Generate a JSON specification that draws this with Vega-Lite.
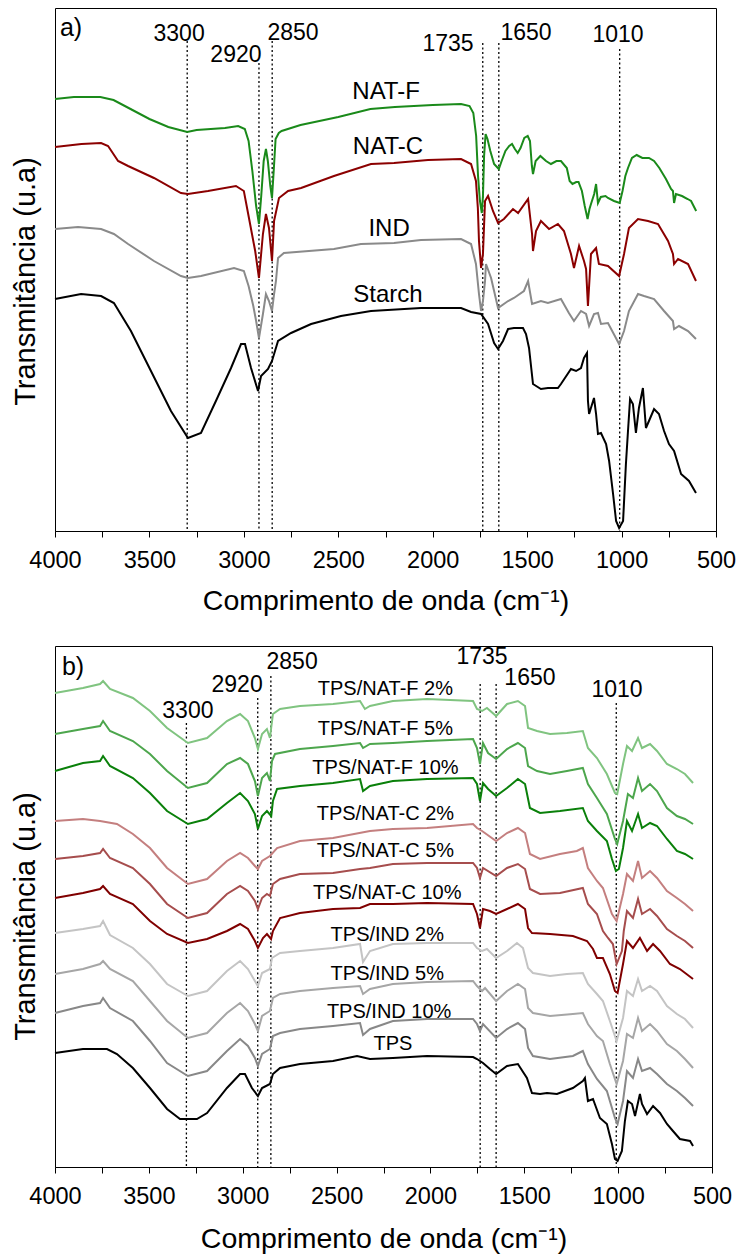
{
"$schema": "https://vega.github.io/schema/vega-lite/v6.json",
"padding": {"left": 10, "top": 7, "right": 0, "bottom": 0},
"spacing": 29,
"resolve": {"scale": {"x": "independent", "y": "independent", "color": "independent"}, "axis": {"x": "independent", "y": "independent"}},
"config": {
  "font": "Liberation Sans",
  "view": {"stroke": "#000000", "strokeWidth": 1},
  "axis": {"grid": false, "tickColor": "#000000", "domainColor": "#000000", "labelColor": "#000000", "titleColor": "#000000", "titleFontWeight": "normal"}
},
"vconcat": [
{
  "width": 661, "height": 523,
  "encoding": {
    "x": {"field": "w", "type": "quantitative", "scale": {"domain": [500, 4000], "reverse": true, "nice": false, "zero": false},
      "axis": {"title": "Comprimento de onda (cm⁻¹)", "values": [4000,3750,3500,3250,3000,2750,2500,2250,2000,1750,1500,1250,1000,750,500], "format": "d", "labelExpr": "datum.value % 500 == 0 ? datum.label : ''", "labelOverlap": false, "labelFlush": false, "tickSize": 6, "labelFontSize": 23.5, "labelPadding": 11, "titleFontSize": 28.5, "titlePadding": 15}},
    "y": {"field": "v", "type": "quantitative", "scale": {"domain": [0, 523], "nice": false, "zero": false},
      "axis": {"title": "Transmitância (u.a)", "labels": false, "ticks": false, "domain": false, "titleFontSize": 29, "titlePadding": 15, "titleY": 273}}
  },
  "layer": [
    {
      "data": {"values": [
{"w":3300,"v":490},{"w":2920,"v":468},{"w":2850,"v":490},{"w":1735,"v":488},{"w":1650,"v":488},{"w":1010,"v":482}
      ]},
      "mark": {"type": "rule", "color": "#000000", "strokeWidth": 1.3, "strokeDash": [2, 2.5]},
      "encoding": {"y2": {"datum": 0}}
    },
    {
      "data": {"values": [
{"s":"NAT-F","w":4000,"v":432},{"s":"NAT-F","w":3900,"v":434},{"s":"NAT-F","w":3760,"v":434},{"s":"NAT-F","w":3690,"v":431},{"s":"NAT-F","w":3600,"v":422},{"s":"NAT-F","w":3500,"v":412},{"s":"NAT-F","w":3400,"v":404},{"s":"NAT-F","w":3300,"v":399},{"s":"NAT-F","w":3250,"v":401},{"s":"NAT-F","w":3100,"v":403},{"s":"NAT-F","w":3030,"v":405},{"s":"NAT-F","w":2995,"v":402},{"s":"NAT-F","w":2975,"v":390},{"s":"NAT-F","w":2955,"v":360},{"s":"NAT-F","w":2935,"v":325},{"s":"NAT-F","w":2920,"v":307},{"s":"NAT-F","w":2908,"v":335},{"s":"NAT-F","w":2895,"v":370},{"s":"NAT-F","w":2883,"v":382},{"s":"NAT-F","w":2873,"v":370},{"s":"NAT-F","w":2860,"v":345},{"s":"NAT-F","w":2851,"v":333},{"s":"NAT-F","w":2842,"v":360},{"s":"NAT-F","w":2832,"v":392},{"s":"NAT-F","w":2815,"v":398},{"s":"NAT-F","w":2800,"v":400},{"s":"NAT-F","w":2700,"v":406},{"s":"NAT-F","w":2600,"v":410},{"s":"NAT-F","w":2500,"v":414},{"s":"NAT-F","w":2330,"v":422},{"s":"NAT-F","w":2200,"v":424},{"s":"NAT-F","w":2000,"v":426},{"s":"NAT-F","w":1850,"v":427},{"s":"NAT-F","w":1805,"v":425},{"s":"NAT-F","w":1785,"v":418},{"s":"NAT-F","w":1770,"v":395},{"s":"NAT-F","w":1760,"v":355},{"s":"NAT-F","w":1750,"v":330},{"s":"NAT-F","w":1740,"v":318},{"s":"NAT-F","w":1734,"v":335},{"s":"NAT-F","w":1728,"v":375},{"s":"NAT-F","w":1720,"v":397},{"s":"NAT-F","w":1710,"v":392},{"s":"NAT-F","w":1695,"v":380},{"s":"NAT-F","w":1675,"v":367},{"s":"NAT-F","w":1650,"v":362},{"s":"NAT-F","w":1635,"v":370},{"s":"NAT-F","w":1615,"v":380},{"s":"NAT-F","w":1595,"v":385},{"s":"NAT-F","w":1580,"v":387},{"s":"NAT-F","w":1565,"v":382},{"s":"NAT-F","w":1550,"v":378},{"s":"NAT-F","w":1535,"v":383},{"s":"NAT-F","w":1515,"v":393},{"s":"NAT-F","w":1497,"v":395},{"s":"NAT-F","w":1485,"v":390},{"s":"NAT-F","w":1475,"v":365},{"s":"NAT-F","w":1469,"v":357},{"s":"NAT-F","w":1455,"v":370},{"s":"NAT-F","w":1430,"v":375},{"s":"NAT-F","w":1400,"v":370},{"s":"NAT-F","w":1374,"v":367},{"s":"NAT-F","w":1345,"v":370},{"s":"NAT-F","w":1321,"v":370},{"s":"NAT-F","w":1290,"v":363},{"s":"NAT-F","w":1275,"v":350},{"s":"NAT-F","w":1260,"v":347},{"s":"NAT-F","w":1240,"v":349},{"s":"NAT-F","w":1228,"v":349},{"s":"NAT-F","w":1210,"v":340},{"s":"NAT-F","w":1195,"v":325},{"s":"NAT-F","w":1180,"v":312},{"s":"NAT-F","w":1170,"v":322},{"s":"NAT-F","w":1162,"v":327},{"s":"NAT-F","w":1145,"v":337},{"s":"NAT-F","w":1135,"v":347},{"s":"NAT-F","w":1125,"v":328},{"s":"NAT-F","w":1110,"v":334},{"s":"NAT-F","w":1085,"v":335},{"s":"NAT-F","w":1072,"v":333},{"s":"NAT-F","w":1040,"v":330},{"s":"NAT-F","w":1010,"v":328},{"s":"NAT-F","w":995,"v":340},{"s":"NAT-F","w":980,"v":355},{"s":"NAT-F","w":966,"v":363},{"s":"NAT-F","w":945,"v":373},{"s":"NAT-F","w":920,"v":376},{"s":"NAT-F","w":890,"v":373},{"s":"NAT-F","w":855,"v":373},{"s":"NAT-F","w":828,"v":370},{"s":"NAT-F","w":800,"v":363},{"s":"NAT-F","w":765,"v":352},{"s":"NAT-F","w":738,"v":342},{"s":"NAT-F","w":728,"v":340},{"s":"NAT-F","w":722,"v":328},{"s":"NAT-F","w":712,"v":337},{"s":"NAT-F","w":680,"v":335},{"s":"NAT-F","w":650,"v":332},{"s":"NAT-F","w":632,"v":330},{"s":"NAT-F","w":605,"v":320},
{"s":"NAT-C","w":4000,"v":384},{"s":"NAT-C","w":3860,"v":387},{"s":"NAT-C","w":3756,"v":388},{"s":"NAT-C","w":3719,"v":385},{"s":"NAT-C","w":3666,"v":370},{"s":"NAT-C","w":3613,"v":365},{"s":"NAT-C","w":3476,"v":353},{"s":"NAT-C","w":3333,"v":338},{"s":"NAT-C","w":3296,"v":337},{"s":"NAT-C","w":3190,"v":340},{"s":"NAT-C","w":3042,"v":345},{"s":"NAT-C","w":3000,"v":340},{"s":"NAT-C","w":2973,"v":313},{"s":"NAT-C","w":2940,"v":280},{"s":"NAT-C","w":2920,"v":253},{"s":"NAT-C","w":2899,"v":297},{"s":"NAT-C","w":2883,"v":317},{"s":"NAT-C","w":2867,"v":303},{"s":"NAT-C","w":2851,"v":270},{"s":"NAT-C","w":2840,"v":310},{"s":"NAT-C","w":2814,"v":333},{"s":"NAT-C","w":2766,"v":340},{"s":"NAT-C","w":2697,"v":343},{"s":"NAT-C","w":2523,"v":355},{"s":"NAT-C","w":2327,"v":367},{"s":"NAT-C","w":2205,"v":368},{"s":"NAT-C","w":2025,"v":371},{"s":"NAT-C","w":1850,"v":372},{"s":"NAT-C","w":1797,"v":367},{"s":"NAT-C","w":1771,"v":350},{"s":"NAT-C","w":1761,"v":323},{"s":"NAT-C","w":1755,"v":290},{"s":"NAT-C","w":1744,"v":263},{"s":"NAT-C","w":1734,"v":277},{"s":"NAT-C","w":1723,"v":330},{"s":"NAT-C","w":1707,"v":335},{"s":"NAT-C","w":1681,"v":320},{"s":"NAT-C","w":1654,"v":308},{"s":"NAT-C","w":1623,"v":312},{"s":"NAT-C","w":1575,"v":322},{"s":"NAT-C","w":1548,"v":318},{"s":"NAT-C","w":1495,"v":332},{"s":"NAT-C","w":1474,"v":297},{"s":"NAT-C","w":1469,"v":280},{"s":"NAT-C","w":1453,"v":300},{"s":"NAT-C","w":1427,"v":310},{"s":"NAT-C","w":1384,"v":302},{"s":"NAT-C","w":1337,"v":307},{"s":"NAT-C","w":1305,"v":300},{"s":"NAT-C","w":1268,"v":277},{"s":"NAT-C","w":1252,"v":263},{"s":"NAT-C","w":1225,"v":285},{"s":"NAT-C","w":1199,"v":270},{"s":"NAT-C","w":1188,"v":262},{"s":"NAT-C","w":1178,"v":225},{"s":"NAT-C","w":1162,"v":277},{"s":"NAT-C","w":1135,"v":283},{"s":"NAT-C","w":1120,"v":267},{"s":"NAT-C","w":1072,"v":265},{"s":"NAT-C","w":1013,"v":255},{"s":"NAT-C","w":987,"v":277},{"s":"NAT-C","w":961,"v":303},{"s":"NAT-C","w":913,"v":312},{"s":"NAT-C","w":860,"v":310},{"s":"NAT-C","w":807,"v":307},{"s":"NAT-C","w":754,"v":290},{"s":"NAT-C","w":728,"v":277},{"s":"NAT-C","w":722,"v":267},{"s":"NAT-C","w":701,"v":272},{"s":"NAT-C","w":648,"v":267},{"s":"NAT-C","w":606,"v":250},
{"s":"IND","w":4000,"v":302},{"s":"IND","w":3878,"v":304},{"s":"IND","w":3756,"v":302},{"s":"IND","w":3688,"v":297},{"s":"IND","w":3613,"v":287},{"s":"IND","w":3476,"v":270},{"s":"IND","w":3333,"v":255},{"s":"IND","w":3296,"v":253},{"s":"IND","w":3227,"v":255},{"s":"IND","w":3052,"v":263},{"s":"IND","w":3000,"v":260},{"s":"IND","w":2975,"v":245},{"s":"IND","w":2950,"v":225},{"s":"IND","w":2935,"v":210},{"s":"IND","w":2920,"v":193},{"s":"IND","w":2899,"v":217},{"s":"IND","w":2883,"v":237},{"s":"IND","w":2867,"v":230},{"s":"IND","w":2851,"v":220},{"s":"IND","w":2840,"v":237},{"s":"IND","w":2830,"v":250},{"s":"IND","w":2819,"v":273},{"s":"IND","w":2788,"v":278},{"s":"IND","w":2523,"v":282},{"s":"IND","w":2380,"v":287},{"s":"IND","w":2205,"v":288},{"s":"IND","w":2062,"v":291},{"s":"IND","w":1850,"v":292},{"s":"IND","w":1797,"v":287},{"s":"IND","w":1771,"v":267},{"s":"IND","w":1755,"v":237},{"s":"IND","w":1744,"v":220},{"s":"IND","w":1734,"v":230},{"s":"IND","w":1723,"v":250},{"s":"IND","w":1718,"v":267},{"s":"IND","w":1691,"v":253},{"s":"IND","w":1654,"v":223},{"s":"IND","w":1601,"v":230},{"s":"IND","w":1570,"v":233},{"s":"IND","w":1517,"v":240},{"s":"IND","w":1495,"v":250},{"s":"IND","w":1474,"v":227},{"s":"IND","w":1427,"v":230},{"s":"IND","w":1390,"v":228},{"s":"IND","w":1321,"v":232},{"s":"IND","w":1279,"v":218},{"s":"IND","w":1252,"v":210},{"s":"IND","w":1215,"v":220},{"s":"IND","w":1188,"v":217},{"s":"IND","w":1172,"v":205},{"s":"IND","w":1146,"v":217},{"s":"IND","w":1125,"v":218},{"s":"IND","w":1109,"v":207},{"s":"IND","w":1072,"v":208},{"s":"IND","w":1013,"v":187},{"s":"IND","w":987,"v":200},{"s":"IND","w":961,"v":220},{"s":"IND","w":913,"v":237},{"s":"IND","w":881,"v":235},{"s":"IND","w":828,"v":232},{"s":"IND","w":775,"v":220},{"s":"IND","w":728,"v":210},{"s":"IND","w":722,"v":202},{"s":"IND","w":696,"v":205},{"s":"IND","w":648,"v":200},{"s":"IND","w":606,"v":192},
{"s":"Starch","w":4000,"v":232},{"s":"Starch","w":3862,"v":237},{"s":"Starch","w":3756,"v":235},{"s":"Starch","w":3688,"v":228},{"s":"Starch","w":3598,"v":200},{"s":"Starch","w":3492,"v":160},{"s":"Starch","w":3386,"v":120},{"s":"Starch","w":3296,"v":93},{"s":"Starch","w":3227,"v":98},{"s":"Starch","w":3148,"v":130},{"s":"Starch","w":3068,"v":163},{"s":"Starch","w":3015,"v":187},{"s":"Starch","w":2994,"v":187},{"s":"Starch","w":2962,"v":163},{"s":"Starch","w":2925,"v":140},{"s":"Starch","w":2909,"v":155},{"s":"Starch","w":2872,"v":162},{"s":"Starch","w":2851,"v":170},{"s":"Starch","w":2819,"v":190},{"s":"Starch","w":2750,"v":198},{"s":"Starch","w":2644,"v":207},{"s":"Starch","w":2486,"v":215},{"s":"Starch","w":2327,"v":220},{"s":"Starch","w":2062,"v":223},{"s":"Starch","w":1850,"v":223},{"s":"Starch","w":1797,"v":219},{"s":"Starch","w":1744,"v":217},{"s":"Starch","w":1707,"v":207},{"s":"Starch","w":1675,"v":188},{"s":"Starch","w":1654,"v":182},{"s":"Starch","w":1628,"v":190},{"s":"Starch","w":1601,"v":202},{"s":"Starch","w":1570,"v":203},{"s":"Starch","w":1522,"v":203},{"s":"Starch","w":1506,"v":197},{"s":"Starch","w":1490,"v":183},{"s":"Starch","w":1469,"v":147},{"s":"Starch","w":1427,"v":142},{"s":"Starch","w":1390,"v":143},{"s":"Starch","w":1337,"v":143},{"s":"Starch","w":1321,"v":147},{"s":"Starch","w":1268,"v":162},{"s":"Starch","w":1241,"v":160},{"s":"Starch","w":1215,"v":163},{"s":"Starch","w":1199,"v":173},{"s":"Starch","w":1183,"v":178},{"s":"Starch","w":1178,"v":130},{"s":"Starch","w":1172,"v":117},{"s":"Starch","w":1146,"v":133},{"s":"Starch","w":1135,"v":117},{"s":"Starch","w":1125,"v":97},{"s":"Starch","w":1109,"v":98},{"s":"Starch","w":1082,"v":87},{"s":"Starch","w":1066,"v":70},{"s":"Starch","w":1045,"v":37},{"s":"Starch","w":1029,"v":10},{"s":"Starch","w":1013,"v":3},{"s":"Starch","w":992,"v":10},{"s":"Starch","w":977,"v":67},{"s":"Starch","w":966,"v":100},{"s":"Starch","w":955,"v":132},{"s":"Starch","w":940,"v":127},{"s":"Starch","w":924,"v":98},{"s":"Starch","w":908,"v":123},{"s":"Starch","w":887,"v":143},{"s":"Starch","w":871,"v":103},{"s":"Starch","w":855,"v":110},{"s":"Starch","w":828,"v":122},{"s":"Starch","w":802,"v":117},{"s":"Starch","w":775,"v":100},{"s":"Starch","w":749,"v":87},{"s":"Starch","w":722,"v":80},{"s":"Starch","w":685,"v":57},{"s":"Starch","w":643,"v":50},{"s":"Starch","w":606,"v":38}
      ]},
      "mark": {"type": "line", "strokeWidth": 2},
      "encoding": {
        "color": {"field": "s", "type": "nominal", "legend": null, "scale": {"domain": ["NAT-F","NAT-C","IND","Starch"], "range": ["#1a8a1a","#8b0000","#8a8a8a","#000000"]}}
      }
    },
    {
      "data": {"values": [
{"w":3343,"v":497,"t":"3300"},{"w":3042,"v":476,"t":"2920"},{"w":2740,"v":498,"t":"2850"},{"w":1919,"v":487,"t":"1735"},{"w":1506,"v":498,"t":"1650"},{"w":1019,"v":496,"t":"1010"}
      ]},
      "mark": {"type": "text", "fontSize": 23, "align": "center", "baseline": "middle", "color": "#000000"},
      "encoding": {"text": {"field": "t"}}
    },
    {
      "data": {"values": [
{"w":2247,"v":439,"t":"NAT-F"},{"w":2237,"v":384,"t":"NAT-C"},{"w":2231,"v":302,"t":"IND"},{"w":2237,"v":236,"t":"Starch"}
      ]},
      "mark": {"type": "text", "fontSize": 24, "align": "center", "baseline": "middle", "color": "#000000"},
      "encoding": {"text": {"field": "t"}}
    },
    {
      "data": {"values": [{"w":3974,"v":503,"t":"a)"}]},
      "mark": {"type": "text", "fontSize": 25, "align": "left", "baseline": "middle", "color": "#000000"},
      "encoding": {"text": {"field": "t"}}
    }
  ]
},
{
  "width": 657, "height": 521,
  "encoding": {
    "x": {"field": "w", "type": "quantitative", "scale": {"domain": [500, 4000], "reverse": true, "nice": false, "zero": false},
      "axis": {"title": "Comprimento de onda (cm⁻¹)", "values": [4000,3750,3500,3250,3000,2750,2500,2250,2000,1750,1500,1250,1000,750,500], "format": "d", "labelExpr": "datum.value % 500 == 0 ? datum.label : ''", "labelOverlap": false, "labelFlush": false, "tickSize": 6, "labelFontSize": 23.5, "labelPadding": 11, "titleFontSize": 28.5, "titlePadding": 17}},
    "y": {"field": "v", "type": "quantitative", "scale": {"domain": [0, 521], "nice": false, "zero": false},
      "axis": {"title": "Transmitância (u.a)", "labels": false, "ticks": false, "domain": false, "titleFontSize": 29, "titlePadding": 15, "titleY": 270}}
  },
  "layer": [
    {
      "data": {"values": [
{"w":3300,"v":444},{"w":2920,"v":469},{"w":2850,"v":491},{"w":1735,"v":483},{"w":1650,"v":483},{"w":1010,"v":464}
      ]},
      "mark": {"type": "rule", "color": "#000000", "strokeWidth": 1.3, "strokeDash": [2, 2.5]},
      "encoding": {"y2": {"datum": 0}}
    },
    {
      "data": {"values": [
{"s":"TPS/NAT-F 2%","w":4000,"v":474},{"s":"TPS/NAT-F 2%","w":3851,"v":479},{"s":"TPS/NAT-F 2%","w":3760,"v":483},{"s":"TPS/NAT-F 2%","w":3744,"v":486},{"s":"TPS/NAT-F 2%","w":3707,"v":478},{"s":"TPS/NAT-F 2%","w":3585,"v":469},{"s":"TPS/NAT-F 2%","w":3494,"v":456},{"s":"TPS/NAT-F 2%","w":3403,"v":439},{"s":"TPS/NAT-F 2%","w":3292,"v":424},{"s":"TPS/NAT-F 2%","w":3190,"v":429},{"s":"TPS/NAT-F 2%","w":3084,"v":446},{"s":"TPS/NAT-F 2%","w":3014,"v":453},{"s":"TPS/NAT-F 2%","w":2972,"v":446},{"s":"TPS/NAT-F 2%","w":2935,"v":429},{"s":"TPS/NAT-F 2%","w":2919,"v":418},{"s":"TPS/NAT-F 2%","w":2897,"v":433},{"s":"TPS/NAT-F 2%","w":2871,"v":438},{"s":"TPS/NAT-F 2%","w":2855,"v":429},{"s":"TPS/NAT-F 2%","w":2839,"v":453},{"s":"TPS/NAT-F 2%","w":2801,"v":458},{"s":"TPS/NAT-F 2%","w":2695,"v":461},{"s":"TPS/NAT-F 2%","w":2519,"v":463},{"s":"TPS/NAT-F 2%","w":2375,"v":466},{"s":"TPS/NAT-F 2%","w":2349,"v":458},{"s":"TPS/NAT-F 2%","w":2322,"v":461},{"s":"TPS/NAT-F 2%","w":2200,"v":466},{"s":"TPS/NAT-F 2%","w":2018,"v":468},{"s":"TPS/NAT-F 2%","w":1773,"v":466},{"s":"TPS/NAT-F 2%","w":1752,"v":458},{"s":"TPS/NAT-F 2%","w":1725,"v":456},{"s":"TPS/NAT-F 2%","w":1699,"v":459},{"s":"TPS/NAT-F 2%","w":1650,"v":451},{"s":"TPS/NAT-F 2%","w":1592,"v":463},{"s":"TPS/NAT-F 2%","w":1534,"v":466},{"s":"TPS/NAT-F 2%","w":1496,"v":461},{"s":"TPS/NAT-F 2%","w":1480,"v":439},{"s":"TPS/NAT-F 2%","w":1432,"v":436},{"s":"TPS/NAT-F 2%","w":1363,"v":433},{"s":"TPS/NAT-F 2%","w":1273,"v":434},{"s":"TPS/NAT-F 2%","w":1188,"v":436},{"s":"TPS/NAT-F 2%","w":1161,"v":419},{"s":"TPS/NAT-F 2%","w":1113,"v":409},{"s":"TPS/NAT-F 2%","w":1060,"v":393},{"s":"TPS/NAT-F 2%","w":1017,"v":374},{"s":"TPS/NAT-F 2%","w":1005,"v":373},{"s":"TPS/NAT-F 2%","w":974,"v":403},{"s":"TPS/NAT-F 2%","w":953,"v":421},{"s":"TPS/NAT-F 2%","w":926,"v":416},{"s":"TPS/NAT-F 2%","w":894,"v":429},{"s":"TPS/NAT-F 2%","w":873,"v":419},{"s":"TPS/NAT-F 2%","w":830,"v":423},{"s":"TPS/NAT-F 2%","w":793,"v":416},{"s":"TPS/NAT-F 2%","w":740,"v":403},{"s":"TPS/NAT-F 2%","w":687,"v":398},{"s":"TPS/NAT-F 2%","w":644,"v":393},{"s":"TPS/NAT-F 2%","w":601,"v":384},
{"s":"TPS/NAT-F 5%","w":4000,"v":433},{"s":"TPS/NAT-F 5%","w":3851,"v":438},{"s":"TPS/NAT-F 5%","w":3760,"v":441},{"s":"TPS/NAT-F 5%","w":3744,"v":446},{"s":"TPS/NAT-F 5%","w":3707,"v":436},{"s":"TPS/NAT-F 5%","w":3585,"v":426},{"s":"TPS/NAT-F 5%","w":3494,"v":413},{"s":"TPS/NAT-F 5%","w":3403,"v":396},{"s":"TPS/NAT-F 5%","w":3292,"v":379},{"s":"TPS/NAT-F 5%","w":3190,"v":384},{"s":"TPS/NAT-F 5%","w":3084,"v":403},{"s":"TPS/NAT-F 5%","w":3014,"v":409},{"s":"TPS/NAT-F 5%","w":2972,"v":403},{"s":"TPS/NAT-F 5%","w":2935,"v":386},{"s":"TPS/NAT-F 5%","w":2919,"v":371},{"s":"TPS/NAT-F 5%","w":2897,"v":389},{"s":"TPS/NAT-F 5%","w":2871,"v":394},{"s":"TPS/NAT-F 5%","w":2855,"v":386},{"s":"TPS/NAT-F 5%","w":2844,"v":406},{"s":"TPS/NAT-F 5%","w":2828,"v":413},{"s":"TPS/NAT-F 5%","w":2695,"v":418},{"s":"TPS/NAT-F 5%","w":2519,"v":421},{"s":"TPS/NAT-F 5%","w":2375,"v":424},{"s":"TPS/NAT-F 5%","w":2359,"v":419},{"s":"TPS/NAT-F 5%","w":2322,"v":423},{"s":"TPS/NAT-F 5%","w":2200,"v":424},{"s":"TPS/NAT-F 5%","w":2018,"v":426},{"s":"TPS/NAT-F 5%","w":1773,"v":428},{"s":"TPS/NAT-F 5%","w":1752,"v":419},{"s":"TPS/NAT-F 5%","w":1736,"v":403},{"s":"TPS/NAT-F 5%","w":1720,"v":424},{"s":"TPS/NAT-F 5%","w":1693,"v":414},{"s":"TPS/NAT-F 5%","w":1650,"v":408},{"s":"TPS/NAT-F 5%","w":1592,"v":418},{"s":"TPS/NAT-F 5%","w":1534,"v":424},{"s":"TPS/NAT-F 5%","w":1496,"v":419},{"s":"TPS/NAT-F 5%","w":1480,"v":401},{"s":"TPS/NAT-F 5%","w":1432,"v":396},{"s":"TPS/NAT-F 5%","w":1363,"v":393},{"s":"TPS/NAT-F 5%","w":1273,"v":396},{"s":"TPS/NAT-F 5%","w":1188,"v":399},{"s":"TPS/NAT-F 5%","w":1161,"v":383},{"s":"TPS/NAT-F 5%","w":1113,"v":369},{"s":"TPS/NAT-F 5%","w":1060,"v":353},{"s":"TPS/NAT-F 5%","w":1017,"v":328},{"s":"TPS/NAT-F 5%","w":1005,"v":323},{"s":"TPS/NAT-F 5%","w":974,"v":346},{"s":"TPS/NAT-F 5%","w":948,"v":373},{"s":"TPS/NAT-F 5%","w":921,"v":369},{"s":"TPS/NAT-F 5%","w":894,"v":389},{"s":"TPS/NAT-F 5%","w":873,"v":376},{"s":"TPS/NAT-F 5%","w":830,"v":383},{"s":"TPS/NAT-F 5%","w":793,"v":376},{"s":"TPS/NAT-F 5%","w":740,"v":359},{"s":"TPS/NAT-F 5%","w":687,"v":351},{"s":"TPS/NAT-F 5%","w":644,"v":348},{"s":"TPS/NAT-F 5%","w":601,"v":343},
{"s":"TPS/NAT-F 10%","w":4000,"v":396},{"s":"TPS/NAT-F 10%","w":3851,"v":404},{"s":"TPS/NAT-F 10%","w":3760,"v":406},{"s":"TPS/NAT-F 10%","w":3744,"v":411},{"s":"TPS/NAT-F 10%","w":3707,"v":401},{"s":"TPS/NAT-F 10%","w":3585,"v":389},{"s":"TPS/NAT-F 10%","w":3494,"v":374},{"s":"TPS/NAT-F 10%","w":3403,"v":356},{"s":"TPS/NAT-F 10%","w":3292,"v":343},{"s":"TPS/NAT-F 10%","w":3190,"v":348},{"s":"TPS/NAT-F 10%","w":3084,"v":364},{"s":"TPS/NAT-F 10%","w":3014,"v":374},{"s":"TPS/NAT-F 10%","w":2972,"v":366},{"s":"TPS/NAT-F 10%","w":2935,"v":353},{"s":"TPS/NAT-F 10%","w":2919,"v":338},{"s":"TPS/NAT-F 10%","w":2897,"v":351},{"s":"TPS/NAT-F 10%","w":2871,"v":356},{"s":"TPS/NAT-F 10%","w":2848,"v":351},{"s":"TPS/NAT-F 10%","w":2839,"v":366},{"s":"TPS/NAT-F 10%","w":2817,"v":378},{"s":"TPS/NAT-F 10%","w":2695,"v":381},{"s":"TPS/NAT-F 10%","w":2519,"v":384},{"s":"TPS/NAT-F 10%","w":2375,"v":388},{"s":"TPS/NAT-F 10%","w":2359,"v":376},{"s":"TPS/NAT-F 10%","w":2322,"v":381},{"s":"TPS/NAT-F 10%","w":2200,"v":386},{"s":"TPS/NAT-F 10%","w":2018,"v":388},{"s":"TPS/NAT-F 10%","w":1773,"v":389},{"s":"TPS/NAT-F 10%","w":1752,"v":383},{"s":"TPS/NAT-F 10%","w":1736,"v":366},{"s":"TPS/NAT-F 10%","w":1720,"v":384},{"s":"TPS/NAT-F 10%","w":1693,"v":378},{"s":"TPS/NAT-F 10%","w":1650,"v":371},{"s":"TPS/NAT-F 10%","w":1592,"v":379},{"s":"TPS/NAT-F 10%","w":1534,"v":388},{"s":"TPS/NAT-F 10%","w":1496,"v":383},{"s":"TPS/NAT-F 10%","w":1470,"v":359},{"s":"TPS/NAT-F 10%","w":1416,"v":354},{"s":"TPS/NAT-F 10%","w":1310,"v":356},{"s":"TPS/NAT-F 10%","w":1188,"v":359},{"s":"TPS/NAT-F 10%","w":1161,"v":346},{"s":"TPS/NAT-F 10%","w":1113,"v":336},{"s":"TPS/NAT-F 10%","w":1060,"v":326},{"s":"TPS/NAT-F 10%","w":1033,"v":308},{"s":"TPS/NAT-F 10%","w":1012,"v":296},{"s":"TPS/NAT-F 10%","w":996,"v":298},{"s":"TPS/NAT-F 10%","w":974,"v":319},{"s":"TPS/NAT-F 10%","w":953,"v":346},{"s":"TPS/NAT-F 10%","w":926,"v":336},{"s":"TPS/NAT-F 10%","w":894,"v":353},{"s":"TPS/NAT-F 10%","w":873,"v":339},{"s":"TPS/NAT-F 10%","w":830,"v":344},{"s":"TPS/NAT-F 10%","w":793,"v":341},{"s":"TPS/NAT-F 10%","w":740,"v":328},{"s":"TPS/NAT-F 10%","w":687,"v":316},{"s":"TPS/NAT-F 10%","w":644,"v":313},{"s":"TPS/NAT-F 10%","w":601,"v":308},
{"s":"TPS/NAT-C 2%","w":4000,"v":346},{"s":"TPS/NAT-C 2%","w":3851,"v":348},{"s":"TPS/NAT-C 2%","w":3760,"v":346},{"s":"TPS/NAT-C 2%","w":3670,"v":343},{"s":"TPS/NAT-C 2%","w":3585,"v":333},{"s":"TPS/NAT-C 2%","w":3494,"v":319},{"s":"TPS/NAT-C 2%","w":3403,"v":299},{"s":"TPS/NAT-C 2%","w":3292,"v":283},{"s":"TPS/NAT-C 2%","w":3190,"v":288},{"s":"TPS/NAT-C 2%","w":3084,"v":306},{"s":"TPS/NAT-C 2%","w":3014,"v":314},{"s":"TPS/NAT-C 2%","w":2972,"v":309},{"s":"TPS/NAT-C 2%","w":2935,"v":301},{"s":"TPS/NAT-C 2%","w":2919,"v":298},{"s":"TPS/NAT-C 2%","w":2897,"v":306},{"s":"TPS/NAT-C 2%","w":2855,"v":311},{"s":"TPS/NAT-C 2%","w":2817,"v":319},{"s":"TPS/NAT-C 2%","w":2695,"v":326},{"s":"TPS/NAT-C 2%","w":2519,"v":329},{"s":"TPS/NAT-C 2%","w":2322,"v":336},{"s":"TPS/NAT-C 2%","w":2200,"v":338},{"s":"TPS/NAT-C 2%","w":2018,"v":339},{"s":"TPS/NAT-C 2%","w":1773,"v":343},{"s":"TPS/NAT-C 2%","w":1752,"v":339},{"s":"TPS/NAT-C 2%","w":1725,"v":336},{"s":"TPS/NAT-C 2%","w":1650,"v":326},{"s":"TPS/NAT-C 2%","w":1592,"v":334},{"s":"TPS/NAT-C 2%","w":1534,"v":339},{"s":"TPS/NAT-C 2%","w":1496,"v":334},{"s":"TPS/NAT-C 2%","w":1470,"v":313},{"s":"TPS/NAT-C 2%","w":1416,"v":308},{"s":"TPS/NAT-C 2%","w":1310,"v":313},{"s":"TPS/NAT-C 2%","w":1220,"v":316},{"s":"TPS/NAT-C 2%","w":1188,"v":319},{"s":"TPS/NAT-C 2%","w":1161,"v":299},{"s":"TPS/NAT-C 2%","w":1113,"v":286},{"s":"TPS/NAT-C 2%","w":1081,"v":279},{"s":"TPS/NAT-C 2%","w":1033,"v":253},{"s":"TPS/NAT-C 2%","w":1008,"v":246},{"s":"TPS/NAT-C 2%","w":974,"v":273},{"s":"TPS/NAT-C 2%","w":953,"v":293},{"s":"TPS/NAT-C 2%","w":921,"v":286},{"s":"TPS/NAT-C 2%","w":894,"v":306},{"s":"TPS/NAT-C 2%","w":873,"v":289},{"s":"TPS/NAT-C 2%","w":830,"v":296},{"s":"TPS/NAT-C 2%","w":793,"v":289},{"s":"TPS/NAT-C 2%","w":740,"v":276},{"s":"TPS/NAT-C 2%","w":687,"v":269},{"s":"TPS/NAT-C 2%","w":644,"v":263},{"s":"TPS/NAT-C 2%","w":601,"v":256},
{"s":"TPS/NAT-C 5%","w":4000,"v":308},{"s":"TPS/NAT-C 5%","w":3851,"v":311},{"s":"TPS/NAT-C 5%","w":3760,"v":314},{"s":"TPS/NAT-C 5%","w":3744,"v":318},{"s":"TPS/NAT-C 5%","w":3707,"v":309},{"s":"TPS/NAT-C 5%","w":3585,"v":299},{"s":"TPS/NAT-C 5%","w":3494,"v":283},{"s":"TPS/NAT-C 5%","w":3403,"v":263},{"s":"TPS/NAT-C 5%","w":3292,"v":249},{"s":"TPS/NAT-C 5%","w":3190,"v":254},{"s":"TPS/NAT-C 5%","w":3084,"v":273},{"s":"TPS/NAT-C 5%","w":3014,"v":281},{"s":"TPS/NAT-C 5%","w":2972,"v":276},{"s":"TPS/NAT-C 5%","w":2935,"v":266},{"s":"TPS/NAT-C 5%","w":2919,"v":258},{"s":"TPS/NAT-C 5%","w":2897,"v":269},{"s":"TPS/NAT-C 5%","w":2871,"v":273},{"s":"TPS/NAT-C 5%","w":2855,"v":271},{"s":"TPS/NAT-C 5%","w":2839,"v":283},{"s":"TPS/NAT-C 5%","w":2801,"v":288},{"s":"TPS/NAT-C 5%","w":2695,"v":293},{"s":"TPS/NAT-C 5%","w":2519,"v":294},{"s":"TPS/NAT-C 5%","w":2375,"v":298},{"s":"TPS/NAT-C 5%","w":2322,"v":299},{"s":"TPS/NAT-C 5%","w":2200,"v":303},{"s":"TPS/NAT-C 5%","w":2018,"v":304},{"s":"TPS/NAT-C 5%","w":1773,"v":304},{"s":"TPS/NAT-C 5%","w":1752,"v":299},{"s":"TPS/NAT-C 5%","w":1736,"v":289},{"s":"TPS/NAT-C 5%","w":1720,"v":299},{"s":"TPS/NAT-C 5%","w":1650,"v":291},{"s":"TPS/NAT-C 5%","w":1592,"v":299},{"s":"TPS/NAT-C 5%","w":1534,"v":303},{"s":"TPS/NAT-C 5%","w":1496,"v":298},{"s":"TPS/NAT-C 5%","w":1470,"v":278},{"s":"TPS/NAT-C 5%","w":1416,"v":273},{"s":"TPS/NAT-C 5%","w":1310,"v":274},{"s":"TPS/NAT-C 5%","w":1188,"v":279},{"s":"TPS/NAT-C 5%","w":1161,"v":263},{"s":"TPS/NAT-C 5%","w":1113,"v":253},{"s":"TPS/NAT-C 5%","w":1081,"v":236},{"s":"TPS/NAT-C 5%","w":1054,"v":229},{"s":"TPS/NAT-C 5%","w":1028,"v":223},{"s":"TPS/NAT-C 5%","w":1008,"v":203},{"s":"TPS/NAT-C 5%","w":980,"v":216},{"s":"TPS/NAT-C 5%","w":970,"v":236},{"s":"TPS/NAT-C 5%","w":953,"v":256},{"s":"TPS/NAT-C 5%","w":921,"v":249},{"s":"TPS/NAT-C 5%","w":894,"v":268},{"s":"TPS/NAT-C 5%","w":873,"v":253},{"s":"TPS/NAT-C 5%","w":830,"v":258},{"s":"TPS/NAT-C 5%","w":793,"v":251},{"s":"TPS/NAT-C 5%","w":740,"v":238},{"s":"TPS/NAT-C 5%","w":687,"v":231},{"s":"TPS/NAT-C 5%","w":644,"v":226},{"s":"TPS/NAT-C 5%","w":601,"v":219},
{"s":"TPS/NAT-C 10%","w":4000,"v":269},{"s":"TPS/NAT-C 10%","w":3851,"v":274},{"s":"TPS/NAT-C 10%","w":3760,"v":278},{"s":"TPS/NAT-C 10%","w":3744,"v":281},{"s":"TPS/NAT-C 10%","w":3707,"v":273},{"s":"TPS/NAT-C 10%","w":3585,"v":263},{"s":"TPS/NAT-C 10%","w":3494,"v":246},{"s":"TPS/NAT-C 10%","w":3403,"v":233},{"s":"TPS/NAT-C 10%","w":3292,"v":224},{"s":"TPS/NAT-C 10%","w":3190,"v":228},{"s":"TPS/NAT-C 10%","w":3084,"v":236},{"s":"TPS/NAT-C 10%","w":3014,"v":243},{"s":"TPS/NAT-C 10%","w":2972,"v":238},{"s":"TPS/NAT-C 10%","w":2935,"v":226},{"s":"TPS/NAT-C 10%","w":2919,"v":219},{"s":"TPS/NAT-C 10%","w":2892,"v":229},{"s":"TPS/NAT-C 10%","w":2871,"v":233},{"s":"TPS/NAT-C 10%","w":2849,"v":228},{"s":"TPS/NAT-C 10%","w":2839,"v":236},{"s":"TPS/NAT-C 10%","w":2801,"v":249},{"s":"TPS/NAT-C 10%","w":2695,"v":254},{"s":"TPS/NAT-C 10%","w":2519,"v":258},{"s":"TPS/NAT-C 10%","w":2375,"v":259},{"s":"TPS/NAT-C 10%","w":2322,"v":263},{"s":"TPS/NAT-C 10%","w":2200,"v":263},{"s":"TPS/NAT-C 10%","w":2018,"v":264},{"s":"TPS/NAT-C 10%","w":1773,"v":263},{"s":"TPS/NAT-C 10%","w":1752,"v":253},{"s":"TPS/NAT-C 10%","w":1736,"v":239},{"s":"TPS/NAT-C 10%","w":1720,"v":258},{"s":"TPS/NAT-C 10%","w":1683,"v":256},{"s":"TPS/NAT-C 10%","w":1650,"v":253},{"s":"TPS/NAT-C 10%","w":1592,"v":258},{"s":"TPS/NAT-C 10%","w":1534,"v":263},{"s":"TPS/NAT-C 10%","w":1496,"v":258},{"s":"TPS/NAT-C 10%","w":1480,"v":239},{"s":"TPS/NAT-C 10%","w":1459,"v":234},{"s":"TPS/NAT-C 10%","w":1363,"v":233},{"s":"TPS/NAT-C 10%","w":1241,"v":231},{"s":"TPS/NAT-C 10%","w":1166,"v":226},{"s":"TPS/NAT-C 10%","w":1134,"v":218},{"s":"TPS/NAT-C 10%","w":1113,"v":209},{"s":"TPS/NAT-C 10%","w":1081,"v":209},{"s":"TPS/NAT-C 10%","w":1044,"v":193},{"s":"TPS/NAT-C 10%","w":1017,"v":176},{"s":"TPS/NAT-C 10%","w":1003,"v":174},{"s":"TPS/NAT-C 10%","w":974,"v":203},{"s":"TPS/NAT-C 10%","w":953,"v":226},{"s":"TPS/NAT-C 10%","w":921,"v":219},{"s":"TPS/NAT-C 10%","w":884,"v":229},{"s":"TPS/NAT-C 10%","w":846,"v":216},{"s":"TPS/NAT-C 10%","w":814,"v":223},{"s":"TPS/NAT-C 10%","w":777,"v":216},{"s":"TPS/NAT-C 10%","w":724,"v":203},{"s":"TPS/NAT-C 10%","w":671,"v":198},{"s":"TPS/NAT-C 10%","w":601,"v":188},
{"s":"TPS/IND 2%","w":4000,"v":234},{"s":"TPS/IND 2%","w":3851,"v":238},{"s":"TPS/IND 2%","w":3760,"v":241},{"s":"TPS/IND 2%","w":3744,"v":246},{"s":"TPS/IND 2%","w":3707,"v":232},{"s":"TPS/IND 2%","w":3585,"v":219},{"s":"TPS/IND 2%","w":3494,"v":203},{"s":"TPS/IND 2%","w":3403,"v":183},{"s":"TPS/IND 2%","w":3292,"v":171},{"s":"TPS/IND 2%","w":3190,"v":176},{"s":"TPS/IND 2%","w":3084,"v":196},{"s":"TPS/IND 2%","w":3014,"v":206},{"s":"TPS/IND 2%","w":2972,"v":198},{"s":"TPS/IND 2%","w":2935,"v":186},{"s":"TPS/IND 2%","w":2919,"v":181},{"s":"TPS/IND 2%","w":2897,"v":194},{"s":"TPS/IND 2%","w":2855,"v":198},{"s":"TPS/IND 2%","w":2844,"v":209},{"s":"TPS/IND 2%","w":2801,"v":214},{"s":"TPS/IND 2%","w":2695,"v":216},{"s":"TPS/IND 2%","w":2519,"v":219},{"s":"TPS/IND 2%","w":2375,"v":223},{"s":"TPS/IND 2%","w":2359,"v":205},{"s":"TPS/IND 2%","w":2322,"v":216},{"s":"TPS/IND 2%","w":2200,"v":223},{"s":"TPS/IND 2%","w":2018,"v":224},{"s":"TPS/IND 2%","w":1773,"v":224},{"s":"TPS/IND 2%","w":1752,"v":219},{"s":"TPS/IND 2%","w":1725,"v":216},{"s":"TPS/IND 2%","w":1699,"v":218},{"s":"TPS/IND 2%","w":1650,"v":209},{"s":"TPS/IND 2%","w":1592,"v":216},{"s":"TPS/IND 2%","w":1539,"v":224},{"s":"TPS/IND 2%","w":1507,"v":219},{"s":"TPS/IND 2%","w":1480,"v":199},{"s":"TPS/IND 2%","w":1454,"v":194},{"s":"TPS/IND 2%","w":1363,"v":191},{"s":"TPS/IND 2%","w":1273,"v":193},{"s":"TPS/IND 2%","w":1188,"v":194},{"s":"TPS/IND 2%","w":1161,"v":183},{"s":"TPS/IND 2%","w":1113,"v":173},{"s":"TPS/IND 2%","w":1081,"v":166},{"s":"TPS/IND 2%","w":1044,"v":146},{"s":"TPS/IND 2%","w":1008,"v":126},{"s":"TPS/IND 2%","w":974,"v":149},{"s":"TPS/IND 2%","w":953,"v":176},{"s":"TPS/IND 2%","w":921,"v":171},{"s":"TPS/IND 2%","w":894,"v":188},{"s":"TPS/IND 2%","w":873,"v":176},{"s":"TPS/IND 2%","w":830,"v":181},{"s":"TPS/IND 2%","w":793,"v":176},{"s":"TPS/IND 2%","w":740,"v":161},{"s":"TPS/IND 2%","w":687,"v":153},{"s":"TPS/IND 2%","w":644,"v":148},{"s":"TPS/IND 2%","w":601,"v":139},
{"s":"TPS/IND 5%","w":4000,"v":193},{"s":"TPS/IND 5%","w":3851,"v":198},{"s":"TPS/IND 5%","w":3760,"v":203},{"s":"TPS/IND 5%","w":3744,"v":206},{"s":"TPS/IND 5%","w":3707,"v":198},{"s":"TPS/IND 5%","w":3585,"v":186},{"s":"TPS/IND 5%","w":3494,"v":166},{"s":"TPS/IND 5%","w":3403,"v":146},{"s":"TPS/IND 5%","w":3292,"v":129},{"s":"TPS/IND 5%","w":3190,"v":134},{"s":"TPS/IND 5%","w":3084,"v":154},{"s":"TPS/IND 5%","w":3014,"v":164},{"s":"TPS/IND 5%","w":2972,"v":156},{"s":"TPS/IND 5%","w":2935,"v":143},{"s":"TPS/IND 5%","w":2919,"v":136},{"s":"TPS/IND 5%","w":2897,"v":151},{"s":"TPS/IND 5%","w":2855,"v":156},{"s":"TPS/IND 5%","w":2839,"v":169},{"s":"TPS/IND 5%","w":2801,"v":173},{"s":"TPS/IND 5%","w":2695,"v":176},{"s":"TPS/IND 5%","w":2519,"v":179},{"s":"TPS/IND 5%","w":2375,"v":181},{"s":"TPS/IND 5%","w":2359,"v":173},{"s":"TPS/IND 5%","w":2322,"v":178},{"s":"TPS/IND 5%","w":2200,"v":183},{"s":"TPS/IND 5%","w":2018,"v":185},{"s":"TPS/IND 5%","w":1773,"v":186},{"s":"TPS/IND 5%","w":1752,"v":181},{"s":"TPS/IND 5%","w":1725,"v":176},{"s":"TPS/IND 5%","w":1709,"v":179},{"s":"TPS/IND 5%","w":1650,"v":166},{"s":"TPS/IND 5%","w":1592,"v":176},{"s":"TPS/IND 5%","w":1534,"v":183},{"s":"TPS/IND 5%","w":1496,"v":178},{"s":"TPS/IND 5%","w":1480,"v":159},{"s":"TPS/IND 5%","w":1454,"v":154},{"s":"TPS/IND 5%","w":1363,"v":151},{"s":"TPS/IND 5%","w":1241,"v":153},{"s":"TPS/IND 5%","w":1188,"v":154},{"s":"TPS/IND 5%","w":1161,"v":143},{"s":"TPS/IND 5%","w":1113,"v":131},{"s":"TPS/IND 5%","w":1081,"v":126},{"s":"TPS/IND 5%","w":1044,"v":103},{"s":"TPS/IND 5%","w":1008,"v":83},{"s":"TPS/IND 5%","w":974,"v":106},{"s":"TPS/IND 5%","w":953,"v":133},{"s":"TPS/IND 5%","w":921,"v":129},{"s":"TPS/IND 5%","w":894,"v":149},{"s":"TPS/IND 5%","w":873,"v":136},{"s":"TPS/IND 5%","w":830,"v":143},{"s":"TPS/IND 5%","w":793,"v":136},{"s":"TPS/IND 5%","w":740,"v":123},{"s":"TPS/IND 5%","w":687,"v":116},{"s":"TPS/IND 5%","w":644,"v":108},{"s":"TPS/IND 5%","w":601,"v":99},
{"s":"TPS/IND 10%","w":4000,"v":154},{"s":"TPS/IND 10%","w":3851,"v":161},{"s":"TPS/IND 10%","w":3760,"v":164},{"s":"TPS/IND 10%","w":3744,"v":169},{"s":"TPS/IND 10%","w":3707,"v":159},{"s":"TPS/IND 10%","w":3585,"v":146},{"s":"TPS/IND 10%","w":3494,"v":126},{"s":"TPS/IND 10%","w":3403,"v":104},{"s":"TPS/IND 10%","w":3292,"v":91},{"s":"TPS/IND 10%","w":3190,"v":96},{"s":"TPS/IND 10%","w":3084,"v":116},{"s":"TPS/IND 10%","w":3014,"v":128},{"s":"TPS/IND 10%","w":2972,"v":121},{"s":"TPS/IND 10%","w":2935,"v":109},{"s":"TPS/IND 10%","w":2919,"v":101},{"s":"TPS/IND 10%","w":2897,"v":113},{"s":"TPS/IND 10%","w":2855,"v":118},{"s":"TPS/IND 10%","w":2839,"v":131},{"s":"TPS/IND 10%","w":2801,"v":134},{"s":"TPS/IND 10%","w":2695,"v":138},{"s":"TPS/IND 10%","w":2519,"v":141},{"s":"TPS/IND 10%","w":2375,"v":144},{"s":"TPS/IND 10%","w":2359,"v":132},{"s":"TPS/IND 10%","w":2322,"v":138},{"s":"TPS/IND 10%","w":2200,"v":146},{"s":"TPS/IND 10%","w":2018,"v":148},{"s":"TPS/IND 10%","w":1773,"v":148},{"s":"TPS/IND 10%","w":1752,"v":143},{"s":"TPS/IND 10%","w":1736,"v":136},{"s":"TPS/IND 10%","w":1720,"v":143},{"s":"TPS/IND 10%","w":1650,"v":129},{"s":"TPS/IND 10%","w":1592,"v":138},{"s":"TPS/IND 10%","w":1534,"v":144},{"s":"TPS/IND 10%","w":1496,"v":138},{"s":"TPS/IND 10%","w":1480,"v":119},{"s":"TPS/IND 10%","w":1454,"v":111},{"s":"TPS/IND 10%","w":1363,"v":108},{"s":"TPS/IND 10%","w":1241,"v":111},{"s":"TPS/IND 10%","w":1188,"v":116},{"s":"TPS/IND 10%","w":1161,"v":103},{"s":"TPS/IND 10%","w":1113,"v":88},{"s":"TPS/IND 10%","w":1060,"v":76},{"s":"TPS/IND 10%","w":1017,"v":49},{"s":"TPS/IND 10%","w":1003,"v":43},{"s":"TPS/IND 10%","w":974,"v":66},{"s":"TPS/IND 10%","w":953,"v":96},{"s":"TPS/IND 10%","w":921,"v":89},{"s":"TPS/IND 10%","w":894,"v":108},{"s":"TPS/IND 10%","w":873,"v":96},{"s":"TPS/IND 10%","w":830,"v":99},{"s":"TPS/IND 10%","w":793,"v":93},{"s":"TPS/IND 10%","w":740,"v":83},{"s":"TPS/IND 10%","w":687,"v":76},{"s":"TPS/IND 10%","w":644,"v":69},{"s":"TPS/IND 10%","w":601,"v":61},
{"s":"TPS","w":4000,"v":114},{"s":"TPS","w":3851,"v":118},{"s":"TPS","w":3723,"v":118},{"s":"TPS","w":3670,"v":113},{"s":"TPS","w":3585,"v":99},{"s":"TPS","w":3494,"v":79},{"s":"TPS","w":3403,"v":58},{"s":"TPS","w":3334,"v":48},{"s":"TPS","w":3244,"v":48},{"s":"TPS","w":3190,"v":54},{"s":"TPS","w":3084,"v":79},{"s":"TPS","w":3014,"v":93},{"s":"TPS","w":2988,"v":93},{"s":"TPS","w":2951,"v":79},{"s":"TPS","w":2919,"v":71},{"s":"TPS","w":2897,"v":79},{"s":"TPS","w":2855,"v":83},{"s":"TPS","w":2839,"v":93},{"s":"TPS","w":2801,"v":99},{"s":"TPS","w":2695,"v":103},{"s":"TPS","w":2519,"v":106},{"s":"TPS","w":2391,"v":111},{"s":"TPS","w":2322,"v":108},{"s":"TPS","w":2200,"v":109},{"s":"TPS","w":2018,"v":111},{"s":"TPS","w":1773,"v":110},{"s":"TPS","w":1752,"v":108},{"s":"TPS","w":1720,"v":104},{"s":"TPS","w":1683,"v":98},{"s":"TPS","w":1650,"v":93},{"s":"TPS","w":1592,"v":101},{"s":"TPS","w":1534,"v":103},{"s":"TPS","w":1486,"v":89},{"s":"TPS","w":1459,"v":74},{"s":"TPS","w":1416,"v":73},{"s":"TPS","w":1379,"v":74},{"s":"TPS","w":1326,"v":73},{"s":"TPS","w":1241,"v":79},{"s":"TPS","w":1188,"v":86},{"s":"TPS","w":1177,"v":89},{"s":"TPS","w":1161,"v":66},{"s":"TPS","w":1134,"v":68},{"s":"TPS","w":1097,"v":49},{"s":"TPS","w":1060,"v":43},{"s":"TPS","w":1033,"v":23},{"s":"TPS","w":1017,"v":8},{"s":"TPS","w":1003,"v":6},{"s":"TPS","w":980,"v":16},{"s":"TPS","w":964,"v":46},{"s":"TPS","w":948,"v":66},{"s":"TPS","w":926,"v":63},{"s":"TPS","w":910,"v":51},{"s":"TPS","w":884,"v":73},{"s":"TPS","w":873,"v":63},{"s":"TPS","w":846,"v":53},{"s":"TPS","w":814,"v":61},{"s":"TPS","w":777,"v":54},{"s":"TPS","w":740,"v":43},{"s":"TPS","w":708,"v":36},{"s":"TPS","w":671,"v":28},{"s":"TPS","w":617,"v":26},{"s":"TPS","w":601,"v":21}
      ]},
      "mark": {"type": "line", "strokeWidth": 2},
      "encoding": {
        "color": {"field": "s", "type": "nominal", "legend": null, "scale": {"domain": ["TPS/NAT-F 2%","TPS/NAT-F 5%","TPS/NAT-F 10%","TPS/NAT-C 2%","TPS/NAT-C 5%","TPS/NAT-C 10%","TPS/IND 2%","TPS/IND 5%","TPS/IND 10%","TPS"], "range": ["#80c480","#4da64d","#0a800a","#c47f7f","#a64d4d","#800000","#c4c4c4","#a6a6a6","#888888","#000000"]}}
      }
    },
    {
      "data": {"values": [
{"w":3292,"v":456,"t":"3300"},{"w":3030,"v":482,"t":"2920"},{"w":2737,"v":505,"t":"2850"},{"w":1725,"v":510,"t":"1735"},{"w":1470,"v":489,"t":"1650"},{"w":1006,"v":477,"t":"1010"}
      ]},
      "mark": {"type": "text", "fontSize": 23, "align": "center", "baseline": "middle", "color": "#000000"},
      "encoding": {"text": {"field": "t"}}
    },
    {
      "data": {"values": [
{"w":2240,"v":478,"t":"TPS/NAT-F 2%"},{"w":2240,"v":438,"t":"TPS/NAT-F 5%"},{"w":2240,"v":399,"t":"TPS/NAT-F 10%"},{"w":2240,"v":353,"t":"TPS/NAT-C 2%"},{"w":2240,"v":316,"t":"TPS/NAT-C 5%"},{"w":2230,"v":274,"t":"TPS/NAT-C 10%"},{"w":2230,"v":232,"t":"TPS/IND 2%"},{"w":2230,"v":193,"t":"TPS/IND 5%"},{"w":2220,"v":155,"t":"TPS/IND 10%"},{"w":2200,"v":123,"t":"TPS"}
      ]},
      "mark": {"type": "text", "fontSize": 20, "align": "center", "baseline": "middle", "color": "#000000"},
      "encoding": {"text": {"field": "t"}}
    },
    {
      "data": {"values": [{"w":3963,"v":500,"t":"b)"}]},
      "mark": {"type": "text", "fontSize": 25, "align": "left", "baseline": "middle", "color": "#000000"},
      "encoding": {"text": {"field": "t"}}
    }
  ]
}
]
}
